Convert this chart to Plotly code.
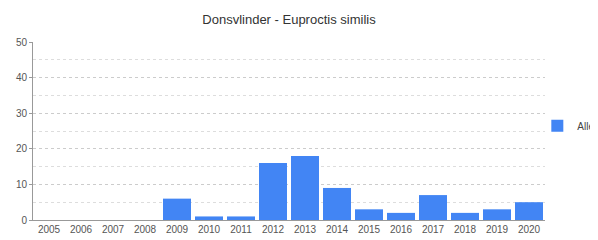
import plotly.graph_objects as go

years = [str(y) for y in range(2005, 2021)]
counts = [0, 0, 0, 0, 6, 1, 1, 16, 18, 9, 3, 2, 7, 2, 3, 5]
series_name = "Alle"
title = "Donsvlinder - Euproctis similis"

# page has an 8px body margin; figure is sized to fit the window
W, H = 590, 232
OFF = 8

fig = go.Figure()
fig.add_trace(go.Bar(x=years, y=counts, name=series_name, marker_color="#4285F4",
                     marker_line_width=0, showlegend=True))

fig.update_layout(
    width=W, height=H,
    margin=dict(l=33 - OFF, r=598 - 545, t=42 - OFF, b=20, autoexpand=False),
    paper_bgcolor="white", plot_bgcolor="white",
    title=dict(text=title, x=((33 + 545) / 2 - OFF) / W, xanchor="center", y=1 - (19 - OFF) / H,
               yanchor="middle",
               font=dict(family="Liberation Sans, Arial", size=13, color="#333")),
    font=dict(family="Liberation Sans, Arial", size=10, color="#555"),
    bargap=0.125,
    showlegend=True,
    legend=dict(x=0.985, y=0.53, xanchor="left", yanchor="middle", font=dict(size=10, color="#444"),
                bgcolor="rgba(0,0,0,0)", itemwidth=30),
    xaxis=dict(type="category", showline=True, linecolor="#999", linewidth=1, ticks="",
               tickfont=dict(size=10, color="#555"), showgrid=False, automargin=False),
    yaxis=dict(range=[0, 50], dtick=10, showline=True, linecolor="#999", linewidth=1,
               ticks="outside", ticklen=3, tickcolor="#999", automargin=False,
               showgrid=True, gridcolor="#ccc", griddash="3px,3px", gridwidth=1,
               minor=dict(dtick=5, showgrid=True, gridcolor="#ddd", griddash="3px,3px"),
               zeroline=False, tickfont=dict(size=10, color="#555")),
)

fig.write_html("out.html")
